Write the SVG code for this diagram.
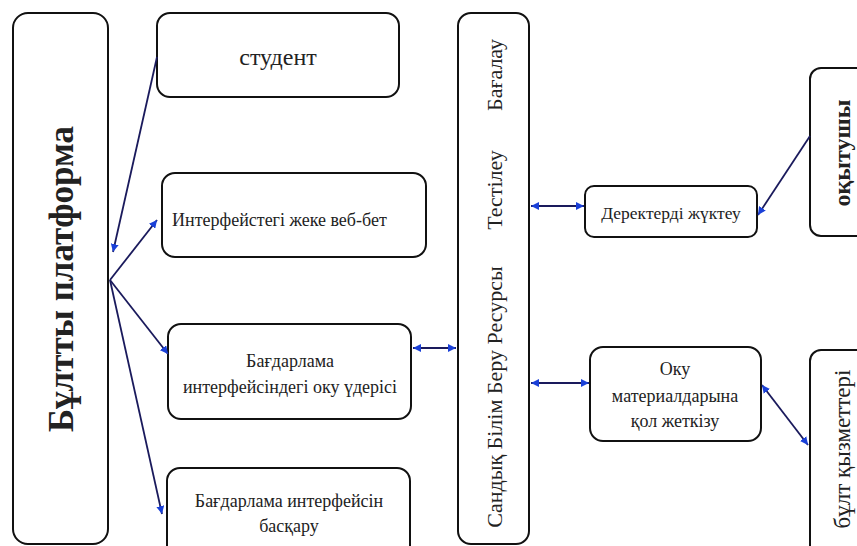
<svg xmlns="http://www.w3.org/2000/svg" width="857" height="546" viewBox="0 0 857 546">
<style>
.box{fill:#fff;stroke:#111;stroke-width:2}
.t{font-family:"Liberation Serif","Times New Roman",serif;fill:#222}
.c{stroke:#1a1a5c;stroke-width:1.8;fill:none}
</style>
<defs>
<marker id="ah" viewBox="0 0 10 10" refX="10" refY="5" markerWidth="8" markerHeight="8" markerUnits="userSpaceOnUse" orient="auto-start-reverse">
<path d="M0,0 L10,5 L0,10 z" fill="#1a40d8"/>
</marker>
</defs>
<rect width="857" height="546" fill="#fff"/>
<g id="platform">
<rect class="box" x="13" y="13" width="95" height="531" rx="15"/>
<text class="t" transform="translate(73,279) rotate(-90)" text-anchor="middle" font-size="35" font-weight="bold">Бұлтты платформа</text>
</g>
<g id="student">
<rect class="box" x="157" y="13" width="242" height="84" rx="13"/>
<text class="t" x="278" y="65" text-anchor="middle" font-size="24">студент</text>
</g>
<g id="interface">
<rect class="box" x="162" y="173" width="264" height="84" rx="13"/>
<text class="t" x="172" y="226" font-size="18">Интерфейстегі жеке веб-бет</text>
</g>
<g id="program">
<rect class="box" x="168" y="324" width="243" height="95" rx="13"/>
<text class="t" x="290" y="367" text-anchor="middle" font-size="18">Бағдарлама</text>
<text class="t" x="290" y="393" text-anchor="middle" font-size="18">интерфейсіндегі оку үдерісі</text>
</g>
<g id="manage">
<rect class="box" x="167" y="468" width="243" height="100" rx="13"/>
<text class="t" x="289" y="507" text-anchor="middle" font-size="18">Бағдарлама интерфейсін</text>
<text class="t" x="289" y="532" text-anchor="middle" font-size="18">басқару</text>
</g>
<g id="resources">
<rect class="box" x="458" y="13" width="71" height="531" rx="13"/>
<text class="t" transform="translate(502,75) rotate(-90)" text-anchor="middle" font-size="22">Бағалау</text>
<text class="t" transform="translate(502,190) rotate(-90)" text-anchor="middle" font-size="22">Тестілеу</text>
<text class="t" transform="translate(502,397) rotate(-90)" text-anchor="middle" font-size="22">Сандық Білім Беру Ресурсы</text>
</g>
<g id="upload">
<rect class="box" x="585" y="186" width="172" height="51" rx="9"/>
<text class="t" x="671" y="219" text-anchor="middle" font-size="17.5">Деректерді жүктеу</text>
</g>
<g id="access">
<rect class="box" x="590" y="347" width="171" height="94" rx="13"/>
<text class="t" x="675" y="375" text-anchor="middle" font-size="18">Оку</text>
<text class="t" x="675" y="402" text-anchor="middle" font-size="18">материалдарына</text>
<text class="t" x="675" y="427" text-anchor="middle" font-size="18">қол жеткізу</text>
</g>
<g id="teacher">
<rect class="box" x="810" y="68" width="70" height="168" rx="11"/>
<text class="t" transform="translate(850,153) rotate(-90)" text-anchor="middle" font-size="24" font-weight="bold">оқытушы</text>
</g>
<g id="cloud">
<rect class="box" x="810" y="350" width="70" height="220" rx="11"/>
<text class="t" transform="translate(850,449) rotate(-90)" text-anchor="middle" font-size="23">бұлт қызметтері</text>
</g>
<g id="connectors">
<line class="c" x1="157" y1="57" x2="113" y2="252" marker-end="url(#ah)"/>
<line class="c" x1="110" y1="280" x2="157" y2="220" marker-end="url(#ah)"/>
<line class="c" x1="110" y1="280" x2="168" y2="354" marker-end="url(#ah)"/>
<line class="c" x1="110" y1="280" x2="162" y2="514" marker-end="url(#ah)"/>
<line class="c" x1="413" y1="348" x2="456" y2="348" marker-start="url(#ah)" marker-end="url(#ah)"/>
<line class="c" x1="531" y1="206" x2="584" y2="206" marker-start="url(#ah)" marker-end="url(#ah)"/>
<line class="c" x1="810" y1="136" x2="758" y2="215" marker-end="url(#ah)"/>
<line class="c" x1="531" y1="383" x2="589" y2="383" marker-start="url(#ah)" marker-end="url(#ah)"/>
<line class="c" x1="762" y1="385" x2="808" y2="445" marker-start="url(#ah)" marker-end="url(#ah)"/>
</g>
</svg>
